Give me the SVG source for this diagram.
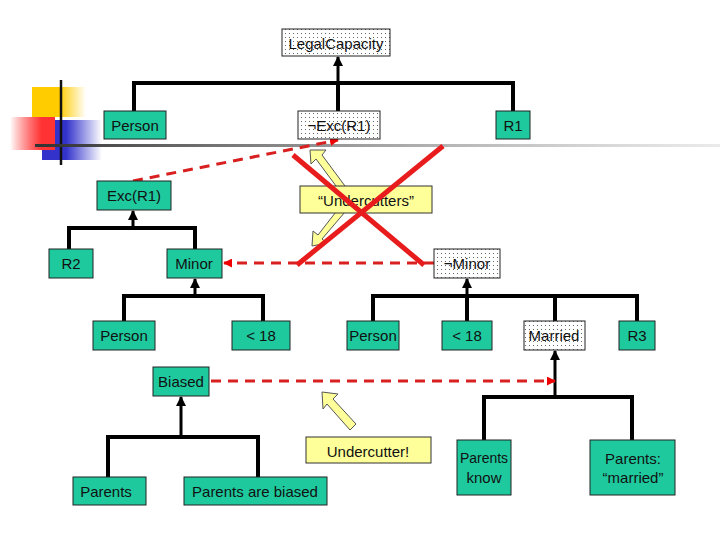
<svg xmlns="http://www.w3.org/2000/svg" width="720" height="540" viewBox="0 0 720 540">
<defs>
<pattern id="dots" width="4" height="4" patternUnits="userSpaceOnUse"><rect width="4" height="4" fill="#fff"/><rect x="1" y="1" width="1" height="1" fill="#666"/></pattern>
<marker id="ah" viewBox="0 0 10 10" refX="9" refY="5" markerWidth="3.5" markerHeight="3.5" orient="auto"><path d="M0,0 L10,5 L0,10 z" fill="#000"/></marker>
<marker id="rh" viewBox="0 0 10 10" refX="9" refY="5" markerWidth="3" markerHeight="3" orient="auto"><path d="M0,0 L10,5 L0,10 z" fill="#e00"/></marker>
<linearGradient id="gr" x1="0" x2="1"><stop offset="0" stop-color="#f00" stop-opacity="0"/><stop offset="0.7" stop-color="#f33"/></linearGradient>
<linearGradient id="gy" x1="0" x2="1"><stop offset="0.5" stop-color="#fc0"/><stop offset="1" stop-color="#fc0" stop-opacity="0"/></linearGradient>
<linearGradient id="gb" x1="0" x2="1"><stop offset="0.4" stop-color="#33c"/><stop offset="1" stop-color="#33c" stop-opacity="0"/></linearGradient>
<linearGradient id="gl" x1="0" x2="1"><stop offset="0" stop-color="#333"/><stop offset="1" stop-color="#999" stop-opacity="0.2"/></linearGradient>
</defs>
<style>
.g{fill:#1fc99e;stroke:#222;stroke-width:1}
.d{fill:url(#dots);stroke:#222;stroke-width:1}
.y{fill:#ffff99;stroke:#333;stroke-width:1}
text{font-family:"Liberation Sans",Arial,sans-serif;font-size:15px;fill:#111;text-anchor:middle;dominant-baseline:central}
.t{fill:none;stroke:#000;stroke-width:4}
.a{fill:none;stroke:#000;stroke-width:3;marker-end:url(#ah)}
.r{fill:none;stroke:#d82020;stroke-width:3;stroke-dasharray:10,7;marker-end:url(#rh)}
.ya{fill:#ffff99;stroke:#555;stroke-width:1}
</style>
<g id="decor">
<rect x="32" y="87" width="54" height="30" fill="url(#gy)"/>
<rect x="42" y="120" width="60" height="40" fill="url(#gb)"/>
<rect x="10" y="117" width="45" height="33" fill="url(#gr)"/>
<line x1="61" y1="80" x2="61" y2="165" stroke="#111" stroke-width="2.5"/>
<rect x="35" y="144" width="685" height="3" fill="url(#gl)"/>
</g>
<g id="connectors">
<path class="t" d="M134,111 V83 H513 V111 M338,111 V83"/>
<path class="a" d="M338,83 V57"/>
<path class="t" d="M69,249 V228 H195 V249"/>
<path class="a" d="M133,228 V211"/>
<path class="t" d="M124,321 V296 H263 V321"/>
<path class="a" d="M195,296 V279"/>
<path class="t" d="M373,321 V296 H637 V321 M467,321 V296 M555,321 V296"/>
<path class="a" d="M467,296 V279"/>
<path class="t" d="M484,440 V397 H632 V440"/>
<path class="a" d="M555,397 V351"/>
<path class="t" d="M108,477 V437 H258 V477"/>
<path class="a" d="M181,437 V397"/>
<path class="r" d="M133,181 L338,140"/>
<path class="r" d="M434,263 H224"/>
<path class="r" d="M211,381 H555"/>
</g>
<g id="yarrows">
<polygon class="ya" points="310,150 326,150 322,155 345,186 339,190 316,159 311,164"/>
<polygon class="ya" points="312,246 327,243 322,239 345,212 339,208 318,235 313,231"/>
<polygon class="ya" points="322,392 338,394 333,399 356,424 350,430 327,404 323,409"/>
</g>
<g id="n-legal"><rect class="d" x="282" y="29" width="108" height="27"/><text x="336" y="43">LegalCapacity</text></g>
<g id="n-person1"><rect class="g" x="104" y="111" width="62" height="28"/><text x="135" y="125">Person</text></g>
<g id="n-notexc"><rect class="d" x="298" y="111" width="82" height="28"/><text x="339" y="125">¬Exc(R1)</text></g>
<g id="n-r1"><rect class="g" x="496" y="111" width="34" height="28"/><text x="513" y="125">R1</text></g>
<g id="n-exc"><rect class="g" x="97" y="181" width="74" height="29"/><text x="134" y="195">Exc(R1)</text></g>
<g id="n-undercutters"><rect class="y" x="300" y="186" width="132" height="27"/><text x="366" y="200">“Undercutters”</text></g>
<g id="n-r2"><rect class="g" x="49" y="249" width="44" height="29"/><text x="71" y="263">R2</text></g>
<g id="n-minor"><rect class="g" x="167" y="249" width="55" height="29"/><text x="194" y="263">Minor</text></g>
<g id="n-notminor"><rect class="d" x="434" y="249" width="66" height="29"/><text x="467" y="263">¬Minor</text></g>
<g id="n-person2"><rect class="g" x="93" y="321" width="62" height="29"/><text x="124" y="335">Person</text></g>
<g id="n-lt1"><rect class="g" x="232" y="321" width="58" height="29"/><text x="261" y="335">&lt; 18</text></g>
<g id="n-person3"><rect class="g" x="347" y="321" width="52" height="29"/><text x="373" y="335">Person</text></g>
<g id="n-lt2"><rect class="g" x="442" y="321" width="50" height="29"/><text x="467" y="335">&lt; 18</text></g>
<g id="n-married"><rect class="d" x="524" y="321" width="61" height="29"/><text x="554" y="335">Married</text></g>
<g id="n-r3"><rect class="g" x="619" y="321" width="36" height="29"/><text x="637" y="335">R3</text></g>
<g id="n-biased"><rect class="g" x="153" y="367" width="56" height="29"/><text x="181" y="381">Biased</text></g>
<g id="n-undercutter"><rect class="y" x="306" y="437" width="125" height="26"/><text x="368" y="451">Undercutter!</text></g>
<g id="n-parentsknow"><rect class="g" x="457" y="440" width="54" height="55"/><text x="484" y="458" style="font-size:14px">Parents</text><text x="484" y="477">know</text></g>
<g id="n-parentsmarried"><rect class="g" x="590" y="440" width="85" height="55"/><text x="633" y="458">Parents:</text><text x="633" y="477">“married”</text></g>
<g id="n-parents"><rect class="g" x="73" y="477" width="73" height="28"/><text x="106" y="491">Parents</text></g>
<g id="n-parentsbiased"><rect class="g" x="184" y="477" width="143" height="28"/><text x="255" y="491">Parents are biased</text></g>
<g id="cross"><line x1="293" y1="155" x2="424" y2="265" stroke="#e81c1c" stroke-width="5"/><line x1="443" y1="146" x2="297" y2="265" stroke="#e81c1c" stroke-width="5"/></g>
</svg>
